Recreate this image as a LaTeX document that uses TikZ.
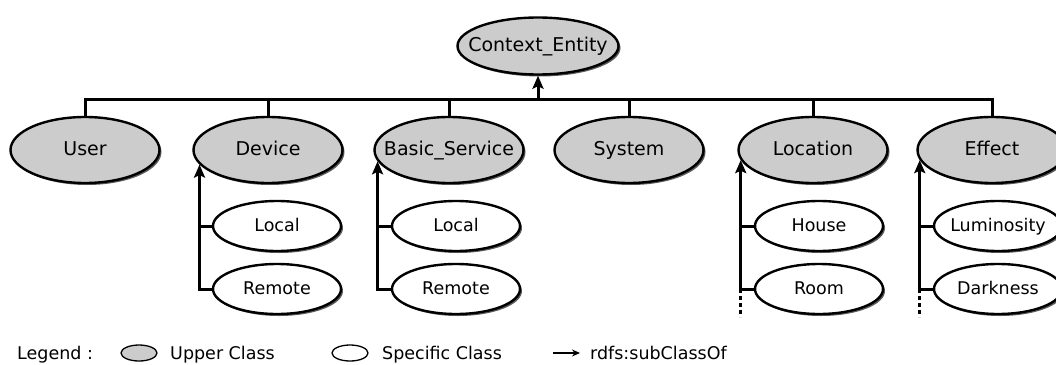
\documentclass[tikz,border=0pt]{standalone}
\usepackage{fontspec}
\setmainfont{DejaVu Sans}
\usetikzlibrary{arrows.meta,positioning,calc,shapes.geometric,shadows}
\tikzset{
  upper/.style={ellipse,draw=black,line width=2.4pt,fill=black!20,minimum width=149pt,minimum height=66pt,inner sep=0pt,text height=14pt,text depth=3pt,font=\fontsize{19}{22}\selectfont,drop shadow={shadow xshift=2pt,shadow yshift=-2pt,fill=black!80,opacity=0.8}},
  specific/.style={upper,fill=white,minimum width=128pt,minimum height=50pt,text height=13pt,text depth=3pt,font=\fontsize{17.5}{21}\selectfont},
  keybox/.style={ellipse,draw=black,line width=1.3pt,minimum width=36pt,minimum height=16pt,inner sep=0pt},
  conn/.style={line width=3pt,draw=black},
  arrow/.style={conn,-{Stealth[length=13pt,width=11pt,inset=2.5pt]}},
  legtext/.style={anchor=base west,inner sep=0pt,font=\fontsize{17.5}{21}\selectfont}
}
\newcommand{\cls}[1]{\makebox[0pt]{#1}}

\begin{document}
\begin{tikzpicture}[x=1pt,y=-1pt]
    \useasboundingbox (0,0) rectangle (1056,364);
    \node[upper,minimum width=161pt,minimum height=57pt] (entity) at (538,46) {\cls{Context\_Entity}};
    \node[upper] (user) at (85,150) {\cls{User}};
    \node[upper] (device) at (268,150) {\cls{Device}};
    \node[upper] (service) at (449,150) {\cls{Basic\_Service}};
    \node[upper] (system) at (629,150) {\cls{System}};
    \node[upper] (location) at (813,150) {\cls{Location}};
    \node[upper] (effect) at (992,150) {\cls{Effect}};
    \node[specific] (devlocal) at (277,226) {\cls{Local}};
    \node[specific] (devremote) at (277,289) {\cls{Remote}};
    \node[specific] (srvlocal) at (456,226) {\cls{Local}};
    \node[specific] (srvremote) at (456,289) {\cls{Remote}};
    \node[specific] (house) at (819,226) {\cls{House}};
    \node[specific] (room) at (819,289) {\cls{Room}};
    \node[specific] (lumi) at (998,226) {\cls{Luminosity}};
    \node[specific] (dark) at (998,289) {\cls{Darkness}};
    \coordinate (bus) at (538,99);
    \foreach \n in {user,device,service,system,location,effect}
      \draw[conn] (\n.north) |- (bus);
    \draw[arrow] (bus) -- (entity);
    \draw[conn] (devlocal.west) -- (devlocal.west -| device.192);
    \draw[arrow] (devremote.west) -| (device.192);
    \draw[conn] (srvlocal.west) -- (srvlocal.west -| service.189);
    \draw[arrow] (srvremote.west) -| (service.189);
    \draw[conn] (house.west) -- (house.west -| location.188);
    \draw[arrow] (room.west) -| (location.188);
    \draw[conn,dash pattern=on 4pt off 3pt] (room.west -| location.188) -- ++(0,28);
    \draw[conn] (lumi.west) -- (lumi.west -| effect.188);
    \draw[arrow] (dark.west) -| (effect.188);
    \draw[conn,dash pattern=on 4pt off 3pt] (dark.west -| effect.188) -- ++(0,28);
    \node[legtext] (legend) at (17,359) {Legend :};
    \node[keybox,fill=black!20] (upkey) at (139,353) {};
    \node[legtext] (uptext) at (170,359) {Upper Class};
    \node[keybox,fill=white] (spkey) at (350,353) {};
    \node[legtext] (sptext) at (382,359) {Specific Class};
    \coordinate (arrstart) at (553,353);
    \coordinate (arrend) at (580,353);
    \draw[line width=1.6pt,-{Stealth[length=8pt,width=7pt]}] (arrstart) -- (arrend);
    \node[legtext] (subtext) at (590,359) {rdfs:subClassOf};
  \end{tikzpicture}
\end{document}
